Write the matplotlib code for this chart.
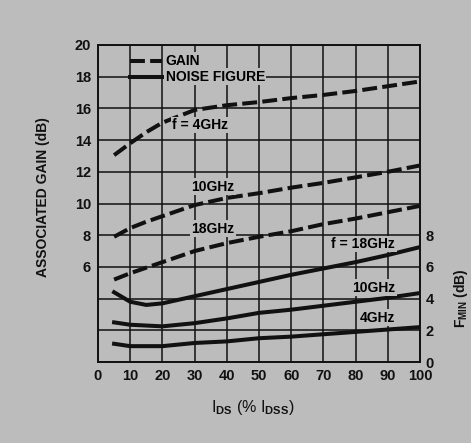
import matplotlib
matplotlib.use("Agg")
import matplotlib.pyplot as plt

# -----------------------
# data
# -----------------------
ids_pct = [5, 10, 15, 20, 30, 40, 50, 60, 70, 80, 90, 100]

gain_4ghz  = [13.05, 13.8, 14.5, 15.1, 15.9, 16.2, 16.4, 16.65, 16.85, 17.1, 17.4, 17.7]
gain_10ghz = [7.9, 8.45, 8.85, 9.2, 9.9, 10.35, 10.65, 11.0, 11.3, 11.65, 12.0, 12.4]
gain_18ghz = [5.2, 5.6, 5.95, 6.3, 7.0, 7.5, 7.9, 8.25, 8.7, 9.05, 9.45, 9.85]

nf_18ghz = [4.4, 3.8, 3.6, 3.7, 4.15, 4.6, 5.05, 5.5, 5.9, 6.3, 6.75, 7.25]
nf_10ghz = [2.5, 2.35, 2.3, 2.25, 2.45, 2.75, 3.1, 3.3, 3.55, 3.8, 4.05, 4.35]
nf_4ghz  = [1.15, 1.0, 1.0, 1.0, 1.2, 1.3, 1.5, 1.6, 1.75, 1.9, 2.05, 2.2]

x_ticks = list(range(0, 101, 10))
gain_ticks = list(range(0, 21, 2))
gain_labels = ['' if t < 6 else str(t) for t in gain_ticks]
nf_ticks = [0, 2, 4, 6, 8]

# -----------------------
# style
# -----------------------
BG = '#bcbcbc'
INK = '#111111'
plt.rcParams['font.family'] = ['Liberation Sans', 'DejaVu Sans']
plt.rcParams['font.weight'] = 'bold'
plt.rcParams['axes.labelweight'] = 'bold'
plt.rcParams['mathtext.fontset'] = 'custom'
plt.rcParams['mathtext.rm'] = 'Liberation Sans:bold'
plt.rcParams['mathtext.bf'] = 'Liberation Sans:bold'
plt.rcParams['mathtext.it'] = 'Liberation Sans:bold'

DASH = (0, (3.7, 1.3))
LW = 2.9

fig = plt.figure(figsize=(4.71, 4.43), dpi=100, facecolor=BG)
ax = fig.add_axes([98 / 471, 1 - 362 / 443, 322 / 471, 317 / 443], facecolor=BG)

ax.set_xlim(0, 100)
ax.set_ylim(0, 20)
ax.set_xticks(x_ticks)
ax.set_yticks(gain_ticks)
ax.set_yticklabels(gain_labels)
ax.grid(True, color=INK, linewidth=1.1)
ax.set_axisbelow(True)
ax.tick_params(length=0, labelsize=10.5, pad=5, colors=INK)
for s in ax.spines.values():
    s.set_linewidth(1.4)
    s.set_color(INK)

# gain curves (dashed)
for g in (gain_4ghz, gain_10ghz, gain_18ghz):
    ax.plot(ids_pct, g, color=INK, linewidth=LW, linestyle=DASH,
            dash_capstyle='butt', zorder=3)

# noise figure curves (solid), same scale as gain axis
for nf in (nf_18ghz, nf_10ghz, nf_4ghz):
    ax.plot(ids_pct, nf, color=INK, linewidth=LW, zorder=3)

# legend drawn inside the grid
ax.plot([10, 20], [19.0, 19.0], color=INK, linewidth=LW, linestyle=DASH, zorder=3)
ax.plot([10, 20], [18.0, 18.0], color=INK, linewidth=LW, zorder=3)
box = dict(facecolor=BG, edgecolor='none', pad=1.0)
ax.text(21, 19.0, 'GAIN', fontsize=10, va='center', ha='left', bbox=box, zorder=4)
ax.text(21, 18.0, 'NOISE FIGURE', fontsize=10, va='center', ha='left', bbox=box, zorder=4)

# curve labels
ax.text(31.7, 14.95, 'f = 4GHz', fontsize=10, ha='center', va='center', bbox=box, zorder=4)
ax.text(35.7, 11.05, '10GHz', fontsize=10, ha='center', va='center', bbox=box, zorder=4)
ax.text(35.7, 8.4, '18GHz', fontsize=10, ha='center', va='center', bbox=box, zorder=4)
ax.text(82.4, 7.45, 'f = 18GHz', fontsize=10, ha='center', va='center', bbox=box, zorder=4)
ax.text(85.7, 4.7, '10GHz', fontsize=10, ha='center', va='center', bbox=box, zorder=4)
ax.text(86.8, 2.8, '4GHz', fontsize=10, ha='center', va='center', bbox=box, zorder=4)

ax.set_ylabel('ASSOCIATED GAIN (dB)', fontsize=10, color=INK)
ax.yaxis.set_label_coords(-0.15, 0.52)
ax.set_xlabel(r'I$_{\mathrm{DS}}$ (% I$_{\mathrm{DSS}}$)', fontsize=11.5, fontweight='normal',
              color=INK)
ax.xaxis.set_label_coords(0.48, -0.115)

# right axis for F_MIN, same dB scale
ax2 = ax.twinx()
ax2.set_ylim(0, 20)
ax2.set_yticks(nf_ticks)
ax2.tick_params(length=0, labelsize=10.5, pad=4, colors=INK)
for s in ax2.spines.values():
    s.set_visible(False)
ax2.set_ylabel(r'F$_{\mathrm{MIN}}$ (dB)', fontsize=10, color=INK)
ax2.yaxis.set_label_coords(1.1, 0.2)

fig.savefig('out.png', dpi=100, facecolor=BG)
